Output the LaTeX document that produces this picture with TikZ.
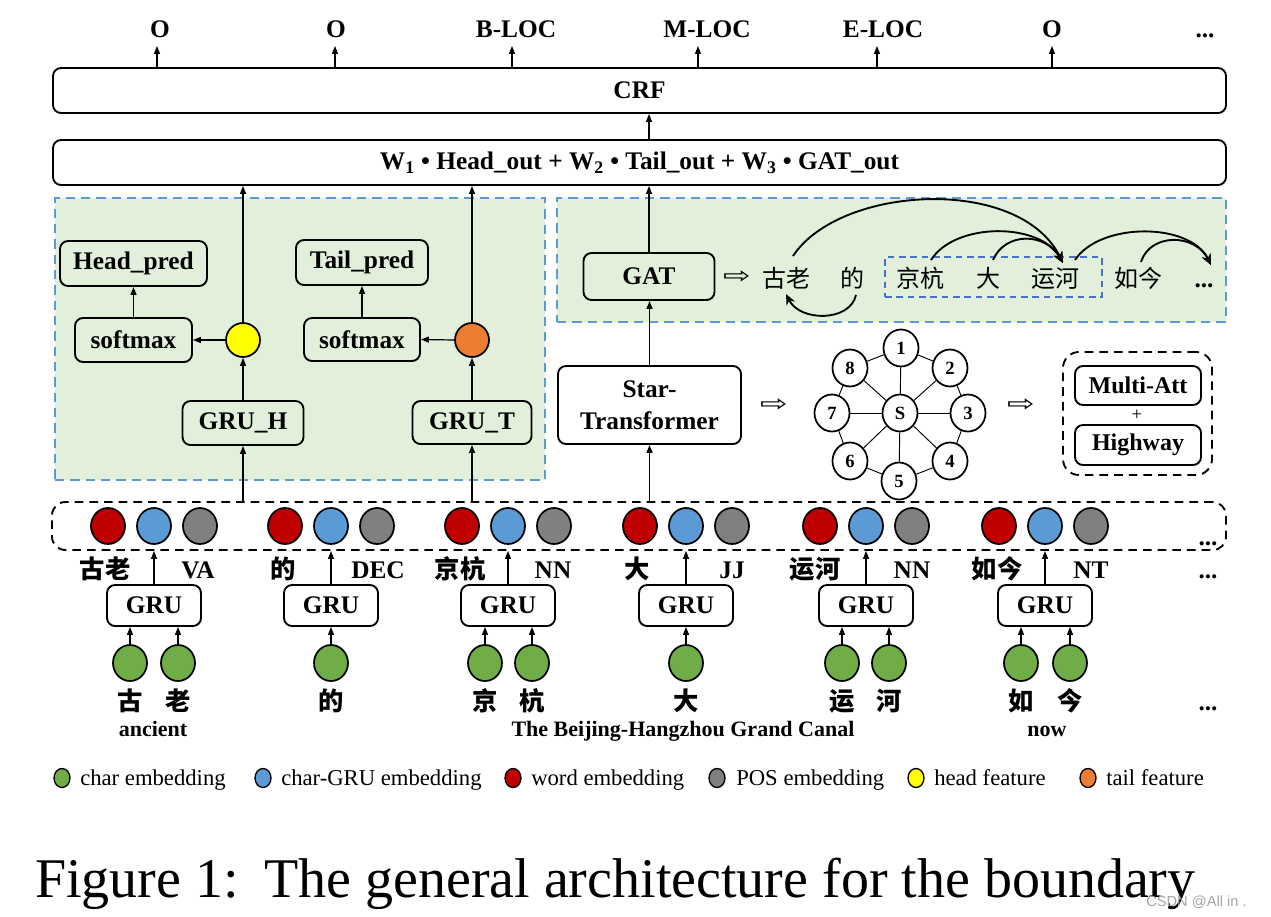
\documentclass[tikz,border=0pt]{standalone}
\usepackage{fontspec}
\setmainfont{Liberation Serif}
\newfontfamily\cjkfont{Noto Sans CJK SC}
\newfontfamily\symfont{DejaVu Sans}
\newfontfamily\wmfont{Liberation Sans}
\usetikzlibrary{arrows.meta,shapes.geometric,calc}
\definecolor{pgreen}{HTML}{E2EFDA}
\definecolor{pblue}{HTML}{5B9BD5}
\definecolor{iblue}{HTML}{4472C4}
\definecolor{cred}{HTML}{C00000}
\definecolor{cblue}{HTML}{5B9BD5}
\definecolor{cgray}{HTML}{808080}
\definecolor{cgreen}{HTML}{70AD47}
\definecolor{cyellow}{HTML}{FFFF00}
\definecolor{corange}{HTML}{ED7D31}
\newcommand\pxu{0.75pt}
\newcommand\wideto{\scalebox{1.45}[1.0]{⇨}}
\begin{document}
\begin{tikzpicture}[x=0.75pt,y=-0.75pt,
  box/.style={draw, line width=1.4pt, rounded corners=6pt, align=center, inner sep=0pt, font=\fontsize{19}{24}\selectfont\bfseries},
  gbox/.style={box, fill=pgreen},
  arr/.style={-{Triangle[length=6pt,width=4.5pt]}, line width=0.9pt},
  carr/.style={-{Stealth[length=8pt,width=7pt]}, line width=1.4pt},
  lab/.style={inner sep=0pt, anchor=base, font=\fontsize{19}{19}\selectfont\bfseries},
  cjklab/.style={inner sep=0pt, anchor=base, font=\fontsize{19}{19}\selectfont\cjkfont\bfseries},
  gatw/.style={inner sep=0pt, anchor=base, font=\fontsize{18}{18}\selectfont\cjkfont},
  dot/.style={ellipse, draw, line width=1.3pt, inner sep=0pt, minimum width=34*\pxu, minimum height=36*\pxu},
  snode/.style={ellipse, draw, fill=white, line width=1.3pt, inner sep=0pt, minimum width=35*\pxu, minimum height=37*\pxu, font=\fontsize{14}{14}\selectfont\bfseries},
  panel/.style={draw=pblue, fill=pgreen, dash pattern=on 7pt off 4.5pt, line width=1.3pt, inner sep=0pt},
  dbox/.style={draw, dash pattern=on 6.5pt off 4.5pt, line width=1.4pt, inner sep=0pt},
  legdot/.style={ellipse, draw, line width=1pt, inner sep=0pt, minimum width=16*\pxu, minimum height=19*\pxu},
  legtxt/.style={anchor=base west, inner sep=0pt, font=\fontsize{17}{17}\selectfont},
  rarrow/.style={inner sep=0pt, font=\fontsize{17}{17}\selectfont\symfont},
]
\useasboundingbox (0,0) rectangle (1271,917);
\fill[white] (0,0) rectangle (1271,917);

% ---------- top: CRF + outputs ----------
\node[box, minimum width=1173*\pxu, minimum height=45*\pxu] (crf) at (639.5,90.5) {CRF};
\node[box, minimum width=1173*\pxu, minimum height=45*\pxu] (form) at (639.5,162.5)
  {W\textsubscript{1} • Head\_out + W\textsubscript{2} • Tail\_out + W\textsubscript{3} • GAT\_out};

\foreach \i/\lx/\ax/\t in {1/160/157/O, 2/336/335/O, 3/516/512/B-LOC, 4/707/698/M-LOC, 5/883/877/E-LOC, 6/1052/1052/O}{
  \node[lab] (t\i) at (\lx,38) {\t};
  \coordinate (a\i) at (\ax,46);
  \draw[arr] (crf.north -| a\i) -- (a\i);
}
\node[lab] (tdots) at (1205,38) {...};

% ---------- panels ----------
\node[panel, minimum width=490*\pxu, minimum height=282*\pxu] (lp) at (300,339) {};
\node[panel, minimum width=669*\pxu, minimum height=124*\pxu] (rp) at (891.5,260) {};

% ---------- embedding strip ----------
\node[dbox, rounded corners=10pt, minimum width=1174*\pxu, minimum height=48*\pxu] (emb) at (639,526) {};

% ---------- left panel ----------
\node[gbox, minimum width=147*\pxu, minimum height=45*\pxu] (hp) at (133.5,263.5) {Head\_pred};
\node[gbox, minimum width=117*\pxu, minimum height=44*\pxu] (sm1) at (133.5,340) {softmax};
\node[circle, draw, line width=1.3pt, fill=cyellow, inner sep=0pt, minimum size=34*\pxu] (yc) at (243,340) {};
\node[gbox, minimum width=121*\pxu, minimum height=44*\pxu] (gruh) at (243,423) {GRU\_H};

\node[gbox, minimum width=132*\pxu, minimum height=45*\pxu] (tp) at (362,262.5) {Tail\_pred};
\node[gbox, minimum width=116*\pxu, minimum height=43*\pxu] (sm2) at (362,339.5) {softmax};
\node[circle, draw, line width=1.3pt, fill=corange, inner sep=0pt, minimum size=34*\pxu] (oc) at (472,340) {};
\node[gbox, minimum width=119*\pxu, minimum height=43*\pxu] (grut) at (472,422.5) {GRU\_T};

\draw[arr] (gruh.north) -- (yc.south);
\draw[arr] (yc.west) -- (sm1.east);
\draw[arr] (sm1.north) -- (hp.south);
\draw[arr] (yc.north) -- (form.south -| yc);
\draw[arr] (emb.north -| gruh) -- (gruh.south);

\draw[arr] (grut.north) -- (oc.south);
\draw[arr] (oc.west) -- (sm2.east);
\draw[arr] (sm2.north) -- (tp.south);
\draw[arr] (oc.north) -- (form.south -| oc);
\draw[arr] (emb.north -| grut) -- (grut.south);

% ---------- right panel: GAT ----------
\node[gbox, minimum width=131*\pxu, minimum height=47*\pxu] (gat) at (649,276.5) {GAT};
\draw[arr] (gat.north) -- (form.south -| gat);
\draw[arr] (form.north -| gat) -- (crf.south -| gat);

\node[rarrow] (ra1) at (737,277) {\wideto};
\node[gatw] (gw1) at (786,287) {古老};
\node[gatw] (gw2) at (852,287) {的};
\node[gatw] (gw3) at (920,287) {京杭};
\node[gatw] (gw4) at (988,287) {大};
\node[gatw] (gw5) at (1055,287) {运河};
\node[gatw] (gw6) at (1138,287) {如今};
\node[lab] (gw7) at (1204,287) {...};
\node[draw=iblue, dash pattern=on 5pt off 3.5pt, line width=1.3pt, inner sep=0pt, minimum width=217*\pxu, minimum height=40*\pxu] (ent) at (993.5,277) {};

\draw[carr] (793,256) .. controls (840,185) and (1020,175) .. (1063,263);
\draw[carr] (931,260) .. controls (955,222) and (1040,222) .. (1063,263);
\draw[carr] (993,260) .. controls (1005,232) and (1045,232) .. (1063,263);
\draw[carr] (1075,260) .. controls (1100,222) and (1190,222) .. (1211,265);
\draw[carr] (1141,262) .. controls (1150,233) and (1195,233) .. (1211,265);
\draw[carr] (856,295) .. controls (850,322) and (800,322) .. (786,294);

% ---------- Star-Transformer ----------
\node[box, fill=white, minimum width=183*\pxu, minimum height=78*\pxu] (star) at (649.5,405) {Star-\\Transformer};
\draw[arr] (star.north) -- (gat.south -| star.north);
\draw[arr] (emb.north -| star) -- (star.south);

\node[rarrow] (ra2) at (774,405) {\wideto};
\node[rarrow] (ra3) at (1021,405) {\wideto};

\node[snode] (sS) at (900,413) {S};
\foreach \k/\xx/\yy in {1/901/348, 2/950/368, 3/968/413, 4/950/461, 5/899/481, 6/850/461, 7/832/413, 8/850/368}{
  \node[snode] (s\k) at (\xx,\yy) {\k};
}
\foreach \a/\b in {1/2,2/3,3/4,4/5,5/6,6/7,7/8,8/1}{
  \draw[line width=0.7pt] (s\a) -- (s\b);
}
\foreach \k in {1,...,8}{
  \draw[line width=0.7pt] (sS) -- (s\k);
}

\node[dbox, rounded corners=12pt, minimum width=149*\pxu, minimum height=123*\pxu] (mh) at (1137.5,413.5) {};
\node[box, minimum width=126*\pxu, minimum height=39*\pxu, font=\fontsize{18}{18}\selectfont\bfseries] (matt) at (1138,385.5) {Multi-Att};
\node[inner sep=0pt, font=\fontsize{14}{14}\selectfont] (plus) at (1137,415) {+};
\node[box, minimum width=126*\pxu, minimum height=40*\pxu, font=\fontsize{18}{18}\selectfont\bfseries] (hw) at (1138,445) {Highway};

% ---------- word groups ----------
\foreach \i/\b/\w/\wx/\p/\px in {1/154/古老/105/VA/198, 2/331/的/283/DEC/378, 3/508/京杭/460/NN/553, 4/686/大/637/JJ/732, 5/866/运河/815/NN/912, 6/1045/如今/997/NT/1091}{
  \node[dot, fill=cred] (r\i) at (\b-46,526) {};
  \node[dot, fill=cblue] (b\i) at (\b,526) {};
  \node[dot, fill=cgray] (y\i) at (\b+46,526) {};
  \node[cjklab] (w\i) at (\wx,578) {\w};
  \node[lab] (p\i) at (\px,578) {\p};
  \node[box, minimum width=94*\pxu, minimum height=41*\pxu] (gru\i) at (\b,605.5) {GRU};
  \draw[arr] (gru\i.north) -- (emb.south -| gru\i);
}
\node[lab] (edots) at (1208,545) {...};
\node[lab] (wdots) at (1208,578) {...};

\foreach \x/\g/\c in {130/1/古, 178/1/老, 331/2/的, 485/3/京, 532/3/杭, 686/4/大, 842/5/运, 889/5/河, 1021/6/如, 1070/6/今}{
  \node[dot, fill=cgreen] (c\x) at (\x,663) {};
  \draw[arr] (c\x.north) -- (c\x.north |- gru\g.south);
  \node[cjklab] (ch\x) at (\x,710) {\c};
}
\node[lab] (cdots) at (1208,710) {...};

\node[lab, font=\fontsize{16.5}{16.5}\selectfont\bfseries] (en1) at (153,736) {ancient};
\node[lab, font=\fontsize{16.5}{16.5}\selectfont\bfseries] (en2) at (683,736) {The Beijing-Hangzhou Grand Canal};
\node[lab, font=\fontsize{16.5}{16.5}\selectfont\bfseries] (en3) at (1047,736) {now};

% ---------- legend ----------
\foreach \n/\cx/\tx/\col/\t in {1/62/80/cgreen/char embedding, 2/263/281/cblue/char-GRU embedding, 3/513/531/cred/word embedding, 4/717/736/cgray/POS embedding, 5/916/934/cyellow/head feature, 6/1088/1106/corange/tail feature}{
  \node[legdot, fill=\col] (ld\n) at (\cx,778) {};
  \node[legtxt] (lt\n) at (\tx,785) {\t};
}

% ---------- caption ----------
\node[anchor=base west, inner sep=0pt, font=\fontsize{42}{42}\selectfont] (cap) at (35,897) {Figure 1:\hspace{0.45em}The general architecture for the boundary};
\node[anchor=base west, inner sep=0pt, font=\fontsize{11}{11}\selectfont\wmfont, text=black!35] (wm) at (1146,906) {CSDN @All in .};
\end{tikzpicture}
\end{document}
